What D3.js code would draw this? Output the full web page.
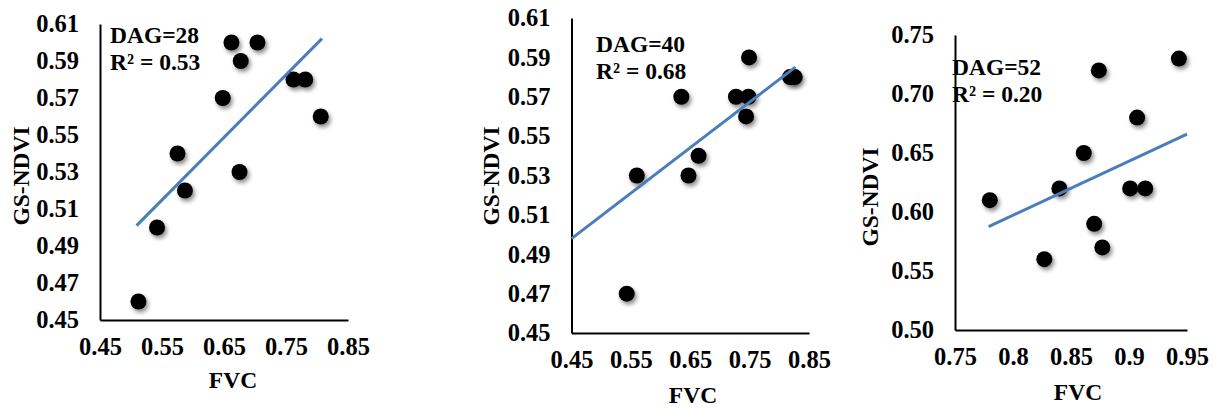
<!DOCTYPE html>
<html>
<head>
<meta charset="utf-8">
<script src="https://cdn.jsdelivr.net/npm/d3@7"></script>
<style>
  html, body { margin: 0; padding: 0; background: #fff; }
  svg text { font-family: "Liberation Serif", "Times New Roman", serif; font-weight: bold; fill: #000; }
</style>
</head>
<body>
<svg id="chart" width="1214" height="408"></svg>
<script>
// DAG = 28
const fvc28 = [0.512, 0.542, 0.575, 0.587, 0.648, 0.662, 0.677, 0.675, 0.704, 0.762, 0.781, 0.806];
const ndvi28 = [0.46, 0.50, 0.54, 0.52, 0.57, 0.60, 0.59, 0.53, 0.60, 0.58, 0.58, 0.56];
// DAG = 40
const fvc40 = [0.543, 0.560, 0.635, 0.647, 0.664, 0.727, 0.748, 0.744, 0.749, 0.818, 0.826];
const ndvi40 = [0.47, 0.53, 0.57, 0.53, 0.54, 0.57, 0.57, 0.56, 0.59, 0.58, 0.58];
// DAG = 52
const fvc52 = [0.780, 0.827, 0.840, 0.861, 0.870, 0.874, 0.877, 0.901, 0.907, 0.914, 0.943];
const ndvi52 = [0.61, 0.56, 0.62, 0.65, 0.59, 0.72, 0.57, 0.62, 0.68, 0.62, 0.73];

// trendlines as drawn: [slope, intercept, xFrom, xTo]
const trend28 = [0.338, 0.329, 0.509, 0.808];
const trend40 = [0.231, 0.394, 0.45, 0.827];
const trend52 = [0.459, 0.230, 0.779, 0.95];

const labels28 = ['DAG=28', 'R² = 0.53'];
const labels40 = ['DAG=40', 'R² = 0.68'];
const labels52 = ['DAG=52', 'R² = 0.20'];

const xTicksA = [0.45, 0.55, 0.65, 0.75, 0.85];
const xTickLabelsA = ['0.45', '0.55', '0.65', '0.75', '0.85'];
const yTicksA = [0.45, 0.47, 0.49, 0.51, 0.53, 0.55, 0.57, 0.59, 0.61];
const yTickLabelsA = ['0.45', '0.47', '0.49', '0.51', '0.53', '0.55', '0.57', '0.59', '0.61'];
const xTicksC = [0.75, 0.8, 0.85, 0.9, 0.95];
const xTickLabelsC = ['0.75', '0.8', '0.85', '0.9', '0.95'];
const yTicksC = [0.50, 0.55, 0.60, 0.65, 0.70, 0.75];
const yTickLabelsC = ['0.50', '0.55', '0.60', '0.65', '0.70', '0.75'];

const svg = d3.select('#chart');

// soft shadow under the markers
svg.append('defs').append('filter')
  .attr('id', 'shadow')
  .attr('x', '-50%').attr('y', '-50%')
  .attr('width', '200%').attr('height', '200%')
  .append('feDropShadow')
  .attr('dx', 2).attr('dy', 3)
  .attr('stdDeviation', 2)
  .attr('flood-color', '#000')
  .attr('flood-opacity', 0.45);

const panels = [
  {
    xs: fvc28, ys: ndvi28, trend: trend28, labels: labels28,
    xDom: [0.45, 0.85], yDom: [0.45, 0.61],
    xTicks: xTicksA, xLabels: xTickLabelsA, yTicks: yTicksA, yLabels: yTickLabelsA,
    left: 100, right: 348, top: 24, bottom: 320,
    note: [110, 43], yTitle: [29, 176], xTitle: [233, 388],
  },
  {
    xs: fvc40, ys: ndvi40, trend: trend40, labels: labels40,
    xDom: [0.45, 0.85], yDom: [0.45, 0.61],
    xTicks: xTicksA, xLabels: xTickLabelsA, yTicks: yTicksA, yLabels: yTickLabelsA,
    left: 571.5, right: 809, top: 18, bottom: 333,
    note: [596, 52], yTitle: [499, 176], xTitle: [693, 403],
  },
  {
    xs: fvc52, ys: ndvi52, trend: trend52, labels: labels52,
    xDom: [0.75, 0.95], yDom: [0.50, 0.75],
    xTicks: xTicksC, xLabels: xTickLabelsC, yTicks: yTicksC, yLabels: yTickLabelsC,
    left: 955, right: 1187, top: 35, bottom: 330,
    note: [952, 75], yTitle: [878, 197], xTitle: [1078, 400],
  },
];

const fontSize = 23.5;
const tickFontSize = 24.5;

panels.forEach((p) => {
  const x = d3.scaleLinear().domain(p.xDom).range([p.left, p.right]);
  const y = d3.scaleLinear().domain(p.yDom).range([p.bottom, p.top]);
  const g = svg.append('g');

  const xAxis = d3.axisBottom(x)
    .tickValues(p.xTicks)
    .tickFormat((d, i) => p.xLabels[i])
    .tickSize(0)
    .tickPadding(18);
  const yAxis = d3.axisLeft(y)
    .tickValues(p.yTicks)
    .tickFormat((d, i) => p.yLabels[i])
    .tickSize(0)
    .tickPadding(21);

  g.append('g')
    .attr('transform', `translate(0,${p.bottom})`)
    .call(xAxis);
  g.append('g')
    .attr('transform', `translate(${p.left},0)`)
    .call(yAxis);

  g.selectAll('.domain').attr('stroke', '#000').attr('stroke-width', 2);
  g.selectAll('.tick text')
    .attr('font-size', tickFontSize)
    .attr('font-family', '"Liberation Serif", "Times New Roman", serif')
    .attr('font-weight', 'bold')
    .attr('fill', '#000');

  // points
  g.append('g')
    .selectAll('circle')
    .data(p.xs.map((v, i) => [v, p.ys[i]]))
    .enter()
    .append('circle')
    .attr('cx', (d) => x(d[0]))
    .attr('cy', (d) => y(d[1]))
    .attr('r', 8)
    .attr('fill', '#000')
    .attr('filter', 'url(#shadow)');

  // linear trendline
  const [slope, icpt, x0, x1] = p.trend;
  g.append('line')
    .attr('x1', x(x0)).attr('y1', y(slope * x0 + icpt))
    .attr('x2', x(x1)).attr('y2', y(slope * x1 + icpt))
    .attr('stroke', '#4A7EBB')
    .attr('stroke-width', 3);

  // DAG / R² note
  p.labels.forEach((t, i) => {
    g.append('text')
      .attr('x', p.note[0])
      .attr('y', p.note[1] + i * 27)
      .attr('font-size', fontSize)
      .text(t);
  });

  // axis titles
  g.append('text')
    .attr('x', p.xTitle[0])
    .attr('y', p.xTitle[1])
    .attr('text-anchor', 'middle')
    .attr('font-size', fontSize)
    .text('FVC');
  g.append('text')
    .attr('transform', `translate(${p.yTitle[0]},${p.yTitle[1]}) rotate(-90)`)
    .attr('text-anchor', 'middle')
    .attr('font-size', fontSize)
    .text('GS-NDVI');
});
</script>
</body>
</html>
